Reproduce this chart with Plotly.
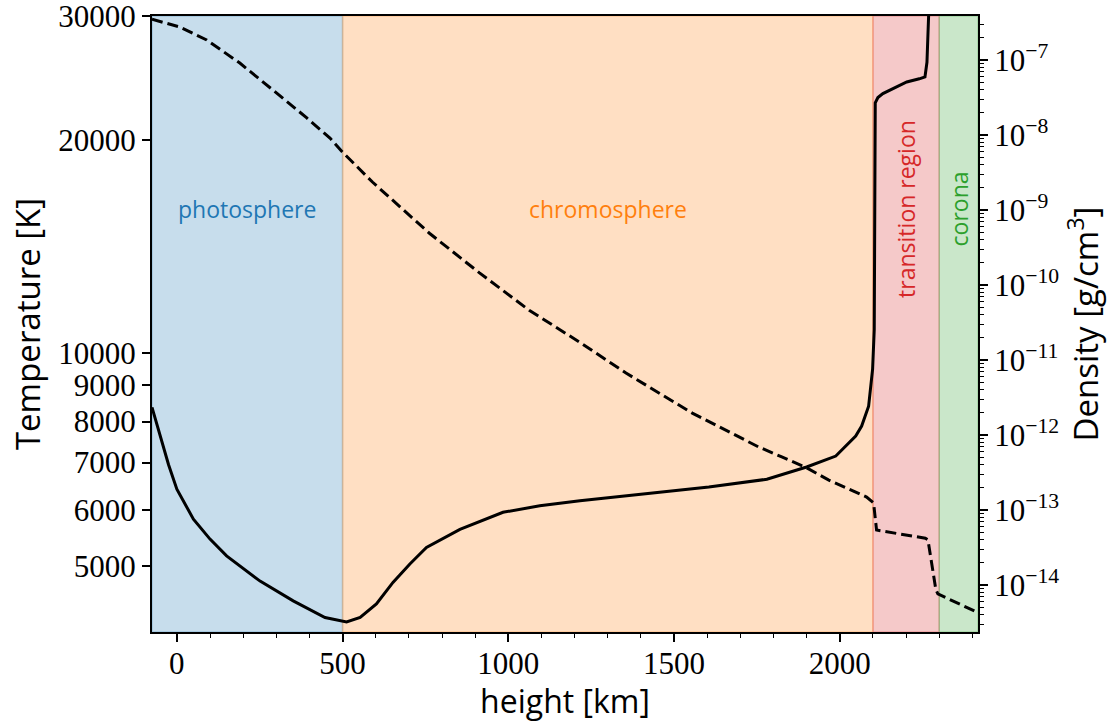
import plotly.graph_objects as go

# ---------------- data ----------------
height_T = [-75, -50, -25, 0, 50, 100, 150, 251, 351, 447, 512, 553, 602, 652, 703, 753,
            854, 984, 1095, 1216, 1605, 1780, 1900, 1988, 2048, 2066, 2087, 2099, 2104,
            2107, 2115, 2130, 2169, 2202, 2240, 2257, 2263, 2268]
temperature = [8380, 7650, 6950, 6420, 5820, 5455, 5165, 4757, 4460, 4225, 4163, 4225, 4415,
               4737, 5030, 5309, 5630, 5953, 6080, 6180, 6463, 6630, 6900, 7150, 7630, 7885,
               8410, 9490, 10800, 22600, 23000, 23300, 23800, 24200, 24450, 24600, 25800, 30000]

height_rho = [-75, 9, 90, 190, 289, 392, 462, 500, 590, 762, 913, 1063, 1214, 1355, 1555, 1756,
              1825, 1898, 1967, 2081, 2102, 2111, 2258, 2266, 2290, 2296, 2411]
density = [3.5e-7, 2.75e-7, 1.85e-7, 9.1e-8, 4.0e-8, 1.69e-8, 9.1e-9, 5.9e-9, 2.36e-9, 4.9e-10,
           1.45e-10, 4.6e-11, 1.74e-11, 6.7e-12, 1.96e-12, 6.9e-13, 5.1e-13, 3.7e-13, 2.5e-13,
           1.49e-13, 1.24e-13, 5.4e-14, 4.2e-14, 4.0e-14, 8.6e-15, 7.6e-15, 4.4e-15]

region_names = ["photosphere", "chromosphere", "transition region", "corona"]
region_start = [-75, 500, 2100, 2300]
region_end = [500, 2100, 2300, 2417]

x_ticks = [0, 500, 1000, 1500, 2000]
T_ticks = [5000, 6000, 7000, 8000, 9000, 10000, 20000, 30000]
rho_exponents = [-14, -13, -12, -11, -10, -9, -8, -7]

# ---------------- style ----------------
region_rgb = ["31,119,180", "255,127,14", "214,39,40", "44,160,44"]
region_text = ["#1f77b4", "#ff7f0e", "#d62728", "#2ca02c"]
region_angle = [0, 0, -90, -90]

XMIN, XMAX = -75, 2417
T_RANGE = [3.6053, 4.47716]
RHO_RANGE = [-14.6267, -6.4133]

SERIF = "Liberation Serif"
SANS = "Open Sans"

fig = go.Figure()

fig.add_trace(go.Scatter(x=height_T, y=temperature, mode="lines",
                         line=dict(color="black", width=3), yaxis="y", showlegend=False))
fig.add_trace(go.Scatter(x=height_rho, y=density, mode="lines",
                         line=dict(color="black", width=3, dash="11px,5px"),
                         yaxis="y2", showlegend=False))

for name, x0, x1, rgb, tc, ang in zip(region_names, region_start, region_end,
                                      region_rgb, region_text, region_angle):
    fig.add_shape(type="rect", xref="x", yref="paper", x0=x0, x1=x1, y0=0, y1=1,
                  fillcolor=f"rgba({rgb},0.25)", line=dict(color=f"rgba({rgb},0.25)", width=1.5),
                  layer="below")
    fig.add_annotation(x=(x0 + x1) / 2, y=0.687, xref="x", yref="paper", text=name,
                       showarrow=False, textangle=ang, xanchor="center", yanchor="middle",
                       font=dict(family=SANS, size=23, color=tc))

minor_rho = []
for e in range(-15, -6):
    for m in range(2, 10):
        minor_rho.append(m * 10.0 ** e)

fig.update_layout(
    width=1118, height=722,
    margin=dict(l=152, r=140, t=16, b=90, autoexpand=False),
    paper_bgcolor="white", plot_bgcolor="white",
    xaxis=dict(range=[XMIN, XMAX], showgrid=False, zeroline=False,
               showline=True, linecolor="black", linewidth=2, mirror=True,
               ticks="outside", ticklen=8, tickwidth=1.5, tickcolor="black",
               tickvals=x_ticks, ticktext=[str(v) for v in x_ticks],
               tickfont=dict(family=SERIF, size=31, color="black"),
               ticklabelstandoff=-5,
               minor=dict(ticks="outside", dtick=100, tick0=0, ticklen=4, tickwidth=1.2,
                          tickcolor="black", showgrid=False),
               title=dict(text="height [km]", font=dict(family=SANS, size=32, color="black"),
                          standoff=8)),
    yaxis=dict(type="log", range=T_RANGE, showgrid=False, zeroline=False,
               showline=True, linecolor="black", linewidth=2, mirror=True,
               ticks="outside", ticklen=8, tickwidth=1.5, tickcolor="black",
               tickvals=T_ticks, ticktext=[str(v) for v in T_ticks],
               tickfont=dict(family=SERIF, size=31, color="black"),
               ticklabeloverflow="allow",
               title=dict(text="Temperature [K]", font=dict(family=SANS, size=33, color="black"),
                          standoff=8)),
    yaxis2=dict(type="log", range=RHO_RANGE, overlaying="y", side="right",
                showgrid=False, zeroline=False,
                showline=True, linecolor="black", linewidth=2,
                ticks="outside", ticklen=8, tickwidth=1.5, tickcolor="black",
                tickvals=[10.0 ** e for e in rho_exponents],
                ticktext=[f"10<sup>\u2212{-e}</sup>" for e in rho_exponents],
                tickfont=dict(family=SERIF, size=31, color="black"),
                ticklabeloverflow="allow",
                minor=dict(ticks="outside", tickvals=minor_rho, ticklen=4, tickwidth=1.2,
                           tickcolor="black", showgrid=False),
                title=dict(text="Density [g/cm<sup>3</sup>]",
                           font=dict(family=SANS, size=33, color="black"), standoff=8)),
)

fig.write_html("out.html")
